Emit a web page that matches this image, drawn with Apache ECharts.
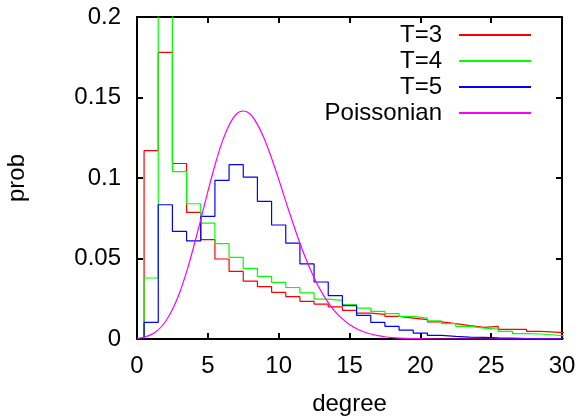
<!DOCTYPE html>
<html>
<head>
<meta charset="utf-8">
<script src="https://cdn.jsdelivr.net/npm/echarts@6/dist/echarts.min.js"></script>
<style>
  html, body { margin: 0; padding: 0; background: #fff; }
  #chart { width: 581px; height: 416px; }
</style>
</head>
<body>
<div id="chart"></div>
<script>
// Histogram bin centers (degree), bins span [k-0.5, k+0.5]
const bins = [1,2,3,4,5,6,7,8,9,10,11,12,13,14,15,16,17,18,19,20,21,22,23,24,25,26,27,28,29,30];
const t3 = [0.117,0.178,0.109,0.0786,0.0617,0.0497,0.042,0.036,0.0325,0.029,0.0263,0.0234,0.0217,0.0199,0.0178,0.0161,0.0153,0.014,0.013,0.012,0.0106,0.0095,0.0083,0.0072,0.0078,0.006,0.006,0.0047,0.0043,0.0037];
const t4 = [0.0379,0.3,0.104,0.084,0.072,0.0592,0.0507,0.0439,0.0389,0.0352,0.032,0.0286,0.0248,0.024,0.0213,0.0192,0.0172,0.0157,0.014,0.013,0.0112,0.0095,0.0078,0.0068,0.0062,0.0047,0.0033,0.0031,0.0025,0.0016];
const t5 = [0.0103,0.0834,0.0668,0.061,0.0762,0.0985,0.1083,0.1006,0.0855,0.0708,0.0596,0.0466,0.0354,0.0269,0.0207,0.0147,0.0103,0.0078,0.0055,0.0037,0.0022,0.0016,0.0012,0.001,0.0007,0.0005,0.0003,0.0002,0.0001,0.0001];
// Poissonian curve
const poisX = [0,0.5,1,1.5,2,2.5,3,3.5,4,4.5,5,5.5,6,6.5,7,7.5,8,8.5,9,9.5,10,10.5,11,11.5,12,12.5,13,13.5,14,14.5,15,15.5,16,16.5,17,17.5,18,19,20,22,30];
const poisY = [0.0003,0.0011,0.0027,0.0057,0.0107,0.0183,0.0286,0.0417,0.0573,0.0742,0.0916,0.1079,0.1221,0.1328,0.1396,0.1416,0.1396,0.1333,0.1241,0.1123,0.0993,0.0855,0.0722,0.0595,0.0481,0.0381,0.0296,0.0226,0.0169,0.0125,0.009,0.0064,0.0045,0.0031,0.0021,0.0014,0.0009,0.0004,0.0002,0,0];
const xTicks = [0,5,10,15,20,25,30];
const yTicks = [0,0.05,0.1,0.15,0.2];
const names = ['T=3','T=4','T=5','Poissonian'];

function steps(vals) {
  const pts = [[bins[0] - 0.5, 0]];
  for (let i = 0; i < bins.length; i++) {
    pts.push([bins[i] - 0.5, vals[i]]);
    pts.push([bins[i] + 0.5, vals[i]]);
  }
  return pts;
}

const FONT = 'Liberation Sans';
const FS = 24;
const axisLineStyle = { color: '#000', width: 2 };

const chart = echarts.init(document.getElementById('chart'), null, { renderer: 'canvas' });
const xBase = {
  type: 'value', min: xTicks[0], max: xTicks[xTicks.length - 1], interval: 5,
  axisLine: { show: true, onZero: false, lineStyle: axisLineStyle },
  axisTick: { show: true, inside: true, length: 6, lineStyle: axisLineStyle },
  splitLine: { show: false }
};
const yBase = {
  type: 'value', min: yTicks[0], max: yTicks[yTicks.length - 1], interval: 0.05,
  axisLine: { show: true, onZero: false, lineStyle: axisLineStyle },
  axisTick: { show: true, inside: true, length: 6, lineStyle: axisLineStyle },
  splitLine: { show: false }
};

const option = {
  animation: false,
  backgroundColor: '#fff',
  grid: { left: 137, right: 19, top: 17, bottom: 77, containLabel: false, outerBoundsMode: 'none' },
  xAxis: [
    Object.assign({}, xBase, {
      position: 'bottom',
      axisLabel: { color: '#000', fontSize: FS, fontFamily: FONT, margin: 15 },
      name: 'degree', nameLocation: 'middle', nameGap: 53,
      nameTextStyle: { color: '#000', fontSize: FS, fontFamily: FONT }
    }),
    Object.assign({}, xBase, { position: 'top', axisLabel: { show: false } })
  ],
  yAxis: [
    Object.assign({}, yBase, {
      position: 'left',
      axisLabel: { color: '#000', fontSize: FS, fontFamily: FONT, margin: 16 },
      name: 'prob', nameLocation: 'middle', nameGap: 108, nameRotate: 90,
      nameTextStyle: { color: '#000', fontSize: FS, fontFamily: FONT }
    }),
    Object.assign({}, yBase, { position: 'right', axisLabel: { show: false } })
  ],
  legend: {
    data: names,
    orient: 'vertical',
    align: 'right',
    right: 50,
    top: 23,
    padding: 0,
    itemGap: 2,
    itemWidth: 72,
    itemHeight: 2,
    icon: 'rect',
    textStyle: { color: '#000', fontSize: FS, fontFamily: FONT, padding: [0, 12, 0, 0] }
  },
  series: [
    { name: names[0], type: 'line', data: steps(t3), symbol: 'none', clip: true, lineStyle: { color: '#ff0000', width: 1.2 }, itemStyle: { color: '#ff0000' } },
    { name: names[1], type: 'line', data: steps(t4), symbol: 'none', clip: true, lineStyle: { color: '#00ff00', width: 1.2 }, itemStyle: { color: '#00ff00' } },
    { name: names[2], type: 'line', data: steps(t5), symbol: 'none', clip: true, lineStyle: { color: '#0000ff', width: 1.2 }, itemStyle: { color: '#0000ff' } },
    { name: names[3], type: 'line', data: poisX.map((x, i) => [x, poisY[i]]), symbol: 'none', smooth: 0.3, clip: true, lineStyle: { color: '#ff00ff', width: 1.2 }, itemStyle: { color: '#ff00ff' } }
  ]
};
chart.setOption(option);
</script>
</body>
</html>
